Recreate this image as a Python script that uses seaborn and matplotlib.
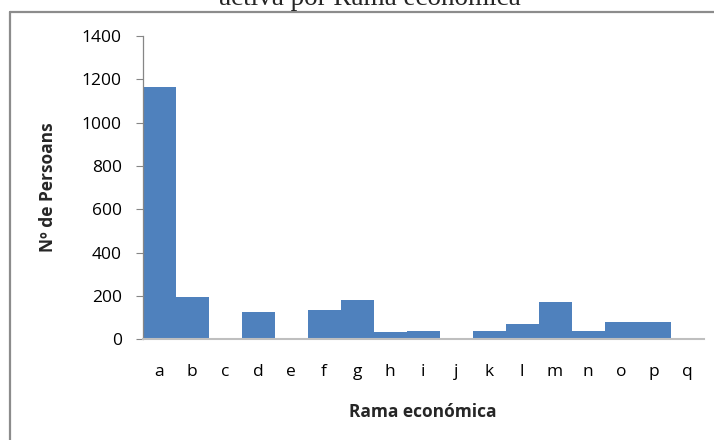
import matplotlib
matplotlib.use("Agg")
import matplotlib.pyplot as plt
import seaborn as sns
import pandas as pd
from matplotlib.lines import Line2D

categories = ["a", "b", "c", "d", "e", "f", "g", "h", "i", "j", "k", "l", "m", "n", "o", "p", "q"]
values = [1165, 197, 0, 125, 5, 134, 183, 32, 40, 0, 40, 72, 171, 40, 80, 80, 0]
yticks = [0, 200, 400, 600, 800, 1000, 1200, 1400]
title_text = "activa por Rama económica"
xlabel = "Rama económica"
ylabel = "Nº de Persoans"

sns.set_style("white")
plt.rcParams["font.family"] = ["Open Sans", "DejaVu Sans"]

df = pd.DataFrame({"cat": categories, "val": values})

fig = plt.figure(figsize=(7.14, 4.40), dpi=100)
ax = fig.add_axes([142.5 / 714, (440 - 339.3) / 440, 561 / 714, (339.3 - 36) / 440])

sns.barplot(data=df, x="cat", y="val", color="#4F81BD", saturation=1, width=1.0,
            linewidth=0, ax=ax, order=categories)

fs = 12.5
ax.set_ylim(0, 1400)
ax.set_xlim(-0.5, 16.5)
ax.set_yticks(yticks)
ax.set_yticklabels([str(t) for t in yticks], fontsize=fs, color="#000000")
ax.tick_params(axis="y", which="both", length=5, width=0.8, color="#868686", pad=10, left=True)
ax.tick_params(axis="x", length=0, pad=18, labelsize=fs)
for lab in ax.get_xticklabels():
    lab.set_color("#000000")

for s in ["top", "right"]:
    ax.spines[s].set_visible(False)
ax.spines["left"].set_color("#868686")
ax.spines["left"].set_linewidth(0.9)
ax.spines["bottom"].set_color("#BFBFBF")
ax.spines["bottom"].set_linewidth(1.5)

ax.set_xlabel(xlabel, fontsize=fs, fontweight="bold", labelpad=16)
ax.set_ylabel(ylabel, fontsize=fs, fontweight="bold", labelpad=18)

# chart frame (top and left edges visible)
fig.add_artist(Line2D([10 / 714, 1.0], [1 - 12 / 440, 1 - 12 / 440], transform=fig.transFigure,
                      color="#8C8C8C", linewidth=1.6))
fig.add_artist(Line2D([10 / 714, 10 / 714], [0, 1 - 12 / 440], transform=fig.transFigure,
                      color="#8C8C8C", linewidth=1.6))

fig.text(370 / 714, 1 - 4.7 / 440, title_text, ha="center", va="baseline",
         fontsize=19.5, family=["Liberation Serif", "DejaVu Serif"])

fig.savefig("out.png", dpi=100)
